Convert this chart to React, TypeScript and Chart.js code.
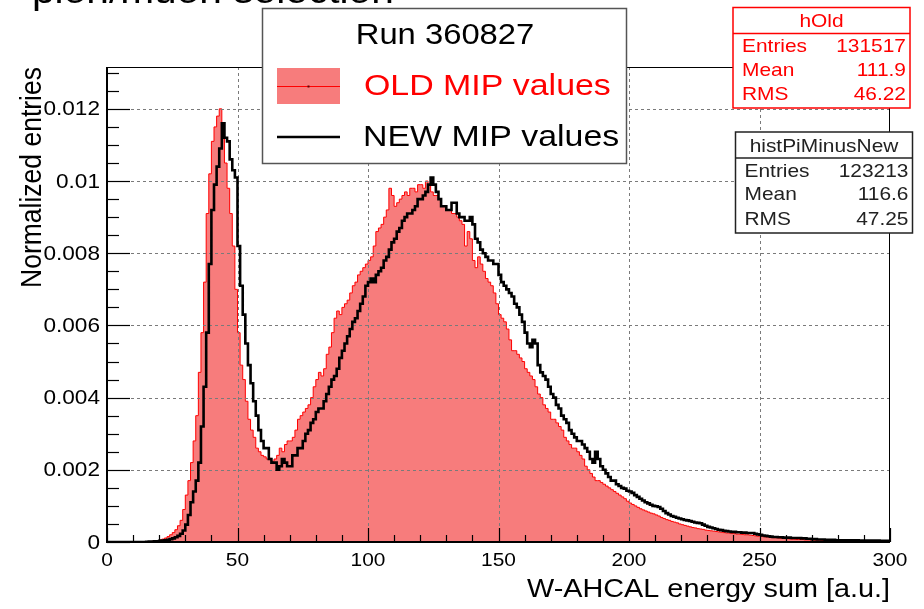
import React, { useEffect, useRef } from 'react';
import Chart from 'chart.js/auto';

// ---- data -------------------------------------------------------------
const BIN_WIDTH = 1; // histogram bins [0,1), [1,2), ... [299,300)
const X_MIN = 0;
const X_MAX = 300;
const Y_MIN = 0;
const Y_MAX = 0.01316;

const xMajorTicks = [0, 50, 100, 150, 200, 250, 300];
const xTickLabels = ['0', '50', '100', '150', '200', '250', '300'];
const yMajorTicks = [0, 0.002, 0.004, 0.006, 0.008, 0.01, 0.012];
const yTickLabels = ['0', '0.002', '0.004', '0.006', '0.008', '0.01', '0.012'];
const X_MINOR_STEP = 10;
const Y_MINOR_STEP = 0.0005;

// OLD MIP values (hOld), normalized entries per bin
const oldMipValues = [
  0, 0, 0, 0, 0, 0, 0, 0, 0, 0,
  0, 0, 0, 0, 0.000005, 0.00001, 0.00001, 0.00002, 0.00003, 0.00004,
  0.00006, 0.00008, 0.00011, 0.00015, 0.0002, 0.00026, 0.00034, 0.00045, 0.0006, 0.0009,
  0.0013, 0.0017, 0.0022, 0.0028, 0.0035, 0.0047, 0.0058, 0.0072, 0.0091, 0.0102,
  0.0111, 0.0115, 0.0118, 0.0120, 0.0114, 0.0105, 0.0098, 0.0091, 0.0082, 0.0070,
  0.0058, 0.0049, 0.0045, 0.0039, 0.0034, 0.0031, 0.0029, 0.0026, 0.0025, 0.0024,
  0.00236, 0.0023, 0.00232, 0.00224, 0.0023, 0.0024, 0.0026, 0.0025, 0.0027, 0.0028,
  0.0028, 0.0029, 0.0031, 0.0034, 0.0035, 0.0036, 0.0037, 0.0038, 0.0040, 0.0043,
  0.0045, 0.0047, 0.0046, 0.0048, 0.0052, 0.0054, 0.0058, 0.0062, 0.0064, 0.0063,
  0.0065, 0.0066, 0.0067, 0.0069, 0.0071, 0.0072, 0.0074, 0.0075, 0.0076, 0.0077,
  0.0078, 0.0079, 0.0082, 0.0086, 0.0087, 0.0088, 0.0090, 0.0092, 0.0098, 0.0096,
  0.0093, 0.0094, 0.0095, 0.0096, 0.0097, 0.0096, 0.0098, 0.0098, 0.0097, 0.0099,
  0.0099, 0.0098, 0.0100, 0.0099, 0.0097, 0.0096, 0.0096, 0.0095, 0.0093, 0.0093,
  0.0092, 0.0092, 0.0091, 0.0091, 0.0090, 0.0089, 0.0088, 0.0082, 0.0086, 0.0084,
  0.0078, 0.0076, 0.0079, 0.0077, 0.0075, 0.0073, 0.0072, 0.0071, 0.0069, 0.0066,
  0.0063, 0.0062, 0.0061, 0.0059, 0.0056, 0.0053, 0.0053, 0.0052, 0.0051, 0.0050,
  0.0048, 0.0047, 0.0046, 0.0045, 0.0043, 0.0041, 0.0040, 0.0038, 0.0037, 0.0036,
  0.0034, 0.0034, 0.0033, 0.0032, 0.0031, 0.0029, 0.0028, 0.0027, 0.0026, 0.0026,
  0.0025, 0.0024, 0.0023, 0.0021, 0.0020, 0.0019, 0.0018, 0.0017, 0.0017, 0.00165,
  0.0016, 0.00155, 0.0015, 0.00145, 0.0014, 0.00135, 0.0013, 0.00125, 0.0012, 0.00113,
  0.00108, 0.00104, 0.001, 0.00096, 0.00092, 0.00089, 0.00086, 0.00083, 0.0008, 0.00078,
  0.00075, 0.00072, 0.00068, 0.00065, 0.00062, 0.0006, 0.00057, 0.00055, 0.00053, 0.0005,
  0.00048, 0.00046, 0.00044, 0.00042, 0.0004, 0.00039, 0.00037, 0.00036, 0.00035, 0.00033,
  0.00032, 0.00031, 0.0003, 0.00029, 0.00028, 0.00027, 0.00026, 0.00025, 0.00025, 0.00024,
  0.00023, 0.00022, 0.00022, 0.00021, 0.0002, 0.0002, 0.00019, 0.00018, 0.00017, 0.00016,
  0.00016, 0.00015, 0.00014, 0.00014, 0.00013, 0.00012, 0.00012, 0.00011, 0.0001, 0.0001,
  0.00009, 0.00009, 0.00008, 0.00008, 0.00007, 0.00007, 0.00007, 0.00006, 0.00006, 0.00006,
  0.00005, 0.00005, 0.00005, 0.00005, 0.00004, 0.00004, 0.00004, 0.00004, 0.00004, 0.00003,
  0.00003, 0.00003, 0.00003, 0.00003, 0.00003, 0.00003, 0.00003, 0.00003, 0.00003, 0.00003,
  0.00002, 0.00002, 0.00002, 0.00002, 0.00002, 0.00002, 0.00002, 0.00002, 0.00002, 0.00002,
];

// NEW MIP values (histPiMinusNew), normalized entries per bin
const newMipValues = [
  0, 0, 0, 0, 0, 0, 0, 0, 0, 0,
  0, 0, 0, 0, 0, 0.000005, 0.00001, 0.00001, 0.00002, 0.00002,
  0.00003, 0.00004, 0.00005, 0.00006, 0.00008, 0.0001, 0.00013, 0.00017, 0.00023, 0.00032,
  0.00048, 0.00075, 0.0011, 0.0014, 0.0017, 0.0022, 0.0032, 0.0043, 0.0058, 0.0077,
  0.0092, 0.0099, 0.0104, 0.0109, 0.0116, 0.0112, 0.0111, 0.0106, 0.0103, 0.0101,
  0.0082, 0.0071, 0.0063, 0.0055, 0.0049, 0.0044, 0.0039, 0.0035, 0.0031, 0.0028,
  0.0026, 0.0026, 0.0023, 0.0022, 0.0022, 0.0020, 0.0021, 0.0023, 0.0022, 0.0021,
  0.0021, 0.0024, 0.0024, 0.0026, 0.0026, 0.0028, 0.0030, 0.0031, 0.0033, 0.0034,
  0.0036, 0.0037, 0.0037, 0.0039, 0.0041, 0.0043, 0.0045, 0.0046, 0.0048, 0.0051,
  0.0053, 0.0055, 0.0057, 0.0059, 0.0061, 0.0062, 0.0064, 0.0066, 0.0068, 0.0071,
  0.0072, 0.0073, 0.0072, 0.0074, 0.0075, 0.0076, 0.0078, 0.0079, 0.0081, 0.0083,
  0.0084, 0.0086, 0.0087, 0.0089, 0.0090, 0.0091, 0.0091, 0.0092, 0.0093, 0.0095,
  0.0095, 0.0096, 0.0097, 0.0099, 0.0101, 0.0099, 0.0097, 0.0095, 0.0093, 0.0093,
  0.0092, 0.0092, 0.0094, 0.0094, 0.0091, 0.0090, 0.0090, 0.0089, 0.0089, 0.0090,
  0.0088, 0.0084, 0.0083, 0.0081, 0.0080, 0.0079, 0.0078, 0.0078, 0.0077, 0.0077,
  0.0074, 0.0072, 0.0071, 0.0070, 0.0069, 0.0068, 0.0066, 0.0065, 0.0063, 0.0061,
  0.0058, 0.0055, 0.0054, 0.0056, 0.0055, 0.0049, 0.0047, 0.0046, 0.0045, 0.0043,
  0.0041, 0.0040, 0.0038, 0.0037, 0.0035, 0.0034, 0.0033, 0.0031, 0.0030, 0.0029,
  0.0028, 0.0028, 0.0027, 0.0026, 0.0025, 0.0023, 0.0022, 0.0025, 0.0023, 0.0021,
  0.0020, 0.0019, 0.0018, 0.0017, 0.0017, 0.0016, 0.00155, 0.0015, 0.00148, 0.00142,
  0.0014, 0.00136, 0.0013, 0.00125, 0.0012, 0.00115, 0.0011, 0.00107, 0.00103, 0.001,
  0.00099, 0.00097, 0.00092, 0.00086, 0.0008, 0.00076, 0.00072, 0.0007, 0.00067, 0.00065,
  0.00063, 0.00061, 0.0006, 0.00058, 0.00056, 0.00054, 0.00053, 0.00052, 0.00048, 0.00045,
  0.00042, 0.0004, 0.00038, 0.00036, 0.00034, 0.00033, 0.00031, 0.0003, 0.00029, 0.00028,
  0.00028, 0.00027, 0.00027, 0.00026, 0.00026, 0.00025, 0.00025, 0.00025, 0.00023, 0.00021,
  0.0002, 0.00018, 0.00017, 0.00016, 0.00015, 0.00014, 0.00014, 0.00013, 0.00013, 0.00012,
  0.00012, 0.00012, 0.00011, 0.00011, 0.00011, 0.00011, 0.0001, 0.0001, 0.00009, 0.00009,
  0.00008, 0.00008, 0.00007, 0.00007, 0.00007, 0.00006, 0.00006, 0.00006, 0.00006, 0.00005,
  0.00005, 0.00005, 0.00005, 0.00005, 0.00005, 0.00005, 0.00005, 0.00005, 0.00004, 0.00004,
  0.00004, 0.00004, 0.00004, 0.00004, 0.00004, 0.00004, 0.00003, 0.00003, 0.00003, 0.00003,
];

const runLabel = 'Run 360827';
const oldLabel = 'OLD MIP values';
const newLabel = 'NEW MIP values';
const xTitle = 'W-AHCAL energy sum [a.u.]';
const yTitle = 'Normalized entries';
const headerText = 'pion/muon selection';

const statRowLabels = ['Entries', 'Mean', 'RMS'];
const statsOldName = 'hOld';
const statsOldValues = ['131517', '111.9', '46.22'];
const statsNewName = 'histPiMinusNew';
const statsNewValues = ['123213', '116.6', '47.25'];

// ---- styling ----------------------------------------------------------
const FONT = '"Liberation Sans", Arial, Helvetica, sans-serif';
const SX = 1.13; // horizontal stretch of the reference's text
const RED_FILL = '#F77C7C';
const RED = '#FF0000';

function toStepPoints(values: number[]) {
  const pts = values.map((v, i) => ({ x: X_MIN + i * BIN_WIDTH, y: v }));
  pts.push({ x: X_MIN + values.length * BIN_WIDTH, y: values[values.length - 1] });
  return pts;
}

function drawText(
  ctx: CanvasRenderingContext2D,
  s: string,
  x: number,
  y: number,
  size: number,
  color: string,
  align: CanvasTextAlign = 'left',
) {
  ctx.save();
  ctx.font = `${size}px ${FONT}`;
  ctx.fillStyle = color;
  ctx.textBaseline = 'middle';
  ctx.textAlign = align;
  ctx.translate(x, y);
  ctx.scale(SX, 1);
  ctx.fillText(s, 0, 0);
  ctx.restore();
}

function drawStatBox(
  ctx: CanvasRenderingContext2D,
  x: number,
  y: number,
  w: number,
  h: number,
  color: string,
  name: string,
  values: string[],
) {
  ctx.save();
  ctx.fillStyle = '#fff';
  ctx.fillRect(x, y, w, h);
  ctx.strokeStyle = color;
  ctx.lineWidth = 1.5;
  ctx.strokeRect(x, y, w, h);
  ctx.beginPath();
  ctx.moveTo(x, y + 26);
  ctx.lineTo(x + w, y + 26);
  ctx.stroke();
  ctx.restore();
  drawText(ctx, name, x + w / 2, y + 14.5, 18.5, color, 'center');
  const rows = [y + 39.5, y + 63, y + 87.5];
  statRowLabels.forEach((lab, i) => {
    drawText(ctx, lab, x + 9, rows[i], 18.5, color, 'left');
    drawText(ctx, values[i], x + w - 4, rows[i], 18.5, color, 'right');
  });
}

const rootPlugin = {
  id: 'rootStyle',
  afterDatasetDraw(chart: any, args: any) {
    if (args.index !== 1) return; // grid above the filled histogram, below the black line
    const { ctx, chartArea: a, scales } = chart;
    ctx.save();
    ctx.strokeStyle = '#7a7a7a';
    ctx.lineWidth = 1;
    ctx.setLineDash([3, 3]);
    xMajorTicks.forEach((v) => {
      if (v === X_MIN || v === X_MAX) return;
      const px = Math.round(scales.x.getPixelForValue(v)) + 0.5;
      ctx.beginPath();
      ctx.moveTo(px, a.top);
      ctx.lineTo(px, a.bottom);
      ctx.stroke();
    });
    yMajorTicks.forEach((v) => {
      if (v === Y_MIN) return;
      const py = Math.round(scales.y.getPixelForValue(v)) + 0.5;
      ctx.beginPath();
      ctx.moveTo(a.left, py);
      ctx.lineTo(a.right, py);
      ctx.stroke();
    });
    ctx.restore();
  },
  afterDraw(chart: any) {
    const { ctx, chartArea: a, scales } = chart;
    const xs = scales.x;
    const ys = scales.y;

    // header fragment (cut by the top of the picture)
    ctx.save();
    ctx.font = `36px ${FONT}`;
    ctx.fillStyle = '#000';
    ctx.textBaseline = 'alphabetic';
    ctx.translate(32, 3);
    ctx.scale(SX, 1);
    ctx.fillText(headerText, 0, 0);
    ctx.restore();

    // frame
    ctx.save();
    ctx.strokeStyle = '#000';
    ctx.lineWidth = 1;
    ctx.strokeRect(a.left + 0.5, a.top + 0.5, a.right - a.left - 1, a.bottom - a.top - 1);
    ctx.lineWidth = 2;
    ctx.beginPath();
    ctx.moveTo(a.left, a.top);
    ctx.lineTo(a.left, a.bottom);
    ctx.lineTo(a.right, a.bottom);
    ctx.stroke();

    // ticks (inside the frame)
    ctx.lineWidth = 1.2;
    for (let v = X_MIN; v <= X_MAX + 1e-9; v += X_MINOR_STEP) {
      const major = xMajorTicks.includes(v);
      const px = Math.round(xs.getPixelForValue(v)) + 0.5;
      ctx.beginPath();
      ctx.moveTo(px, a.bottom);
      ctx.lineTo(px, a.bottom - (major ? 14 : 7));
      ctx.stroke();
    }
    for (let k = 0; k * Y_MINOR_STEP <= Y_MAX + 1e-12; k++) {
      const v = k * Y_MINOR_STEP;
      const major = k % 4 === 0;
      const py = Math.round(ys.getPixelForValue(v)) + 0.5;
      ctx.beginPath();
      ctx.moveTo(a.left, py);
      ctx.lineTo(a.left + (major ? 23 : 12), py);
      ctx.stroke();
    }
    ctx.restore();

    // tick labels
    yMajorTicks.forEach((v, i) => {
      drawText(ctx, yTickLabels[i], a.left - 7, ys.getPixelForValue(v) + 1, 20, '#000', 'right');
    });
    xMajorTicks.forEach((v, i) => {
      drawText(ctx, xTickLabels[i], xs.getPixelForValue(v), a.bottom + 19, 18.5, '#000', 'center');
    });

    // axis titles
    drawText(ctx, xTitle, a.right, a.bottom + 48, 25.5, '#000', 'right');
    ctx.save();
    ctx.font = `26.5px ${FONT}`;
    ctx.fillStyle = '#000';
    ctx.textBaseline = 'middle';
    ctx.textAlign = 'right';
    ctx.translate(33, a.top);
    ctx.rotate(-Math.PI / 2);
    ctx.scale(1, SX);
    ctx.fillText(yTitle, 0, 0);
    ctx.restore();

    // legend
    const ds = chart.data.datasets;
    ctx.save();
    ctx.fillStyle = '#fff';
    ctx.fillRect(262.5, 8.5, 364, 155);
    ctx.strokeStyle = '#555';
    ctx.lineWidth = 1.5;
    ctx.strokeRect(262.5, 8.5, 364, 155);
    ctx.fillStyle = ds[1].backgroundColor;
    ctx.fillRect(277, 68, 63, 36);
    ctx.strokeStyle = ds[1].borderColor;
    ctx.lineWidth = 1;
    ctx.beginPath();
    ctx.moveTo(277, 86.5);
    ctx.lineTo(340, 86.5);
    ctx.stroke();
    ctx.fillStyle = '#600';
    ctx.fillRect(307.5, 85.5, 2, 2);
    ctx.strokeStyle = ds[0].borderColor;
    ctx.lineWidth = 2.5;
    ctx.beginPath();
    ctx.moveTo(277, 137);
    ctx.lineTo(340, 137);
    ctx.stroke();
    ctx.restore();
    drawText(ctx, runLabel, 445, 36, 29, '#000', 'center');
    drawText(ctx, ds[1].label, 364, 87, 30, RED, 'left');
    drawText(ctx, ds[0].label, 363, 138, 30, '#000', 'left');

    // statistics boxes
    drawStatBox(ctx, 733, 7.5, 177, 100.5, RED, statsOldName, statsOldValues);
    drawStatBox(ctx, 735.5, 132, 177, 101, '#222', statsNewName, statsNewValues);
  },
};

export default function App() {
  const canvasRef = useRef<HTMLCanvasElement | null>(null);

  useEffect(() => {
    document.body.style.margin = '0';
    const canvas = canvasRef.current;
    if (!canvas) return;
    const chart = new Chart(canvas, {
      type: 'line',
      data: {
        datasets: [
          {
            label: newLabel,
            data: toStepPoints(newMipValues),
            stepped: 'before',
            borderColor: '#000000',
            borderWidth: 2.6,
            pointRadius: 0,
            fill: false,
          },
          {
            label: oldLabel,
            data: toStepPoints(oldMipValues),
            stepped: 'before',
            borderColor: RED,
            borderWidth: 1,
            backgroundColor: RED_FILL,
            pointRadius: 0,
            fill: 'origin',
          },
        ],
      },
      options: {
        responsive: false,
        animation: false,
        devicePixelRatio: 1,
        layout: { padding: { top: 67, right: 34, left: 0, bottom: 0 } },
        plugins: {
          legend: { display: false },
          tooltip: { enabled: false },
        },
        scales: {
          x: {
            type: 'linear',
            min: X_MIN,
            max: X_MAX,
            grid: { display: false },
            border: { display: false },
            ticks: { display: false },
            afterFit: (s: any) => {
              s.height = 67;
            },
          },
          y: {
            type: 'linear',
            min: Y_MIN,
            max: Y_MAX,
            grid: { display: false },
            border: { display: false },
            ticks: { display: false },
            afterFit: (s: any) => {
              s.width = 107;
            },
          },
        },
      } as any,
      plugins: [rootPlugin as any],
    });
    return () => chart.destroy();
  }, []);

  return <canvas ref={canvasRef} width={924} height={609} style={{ display: 'block' }} />;
}
